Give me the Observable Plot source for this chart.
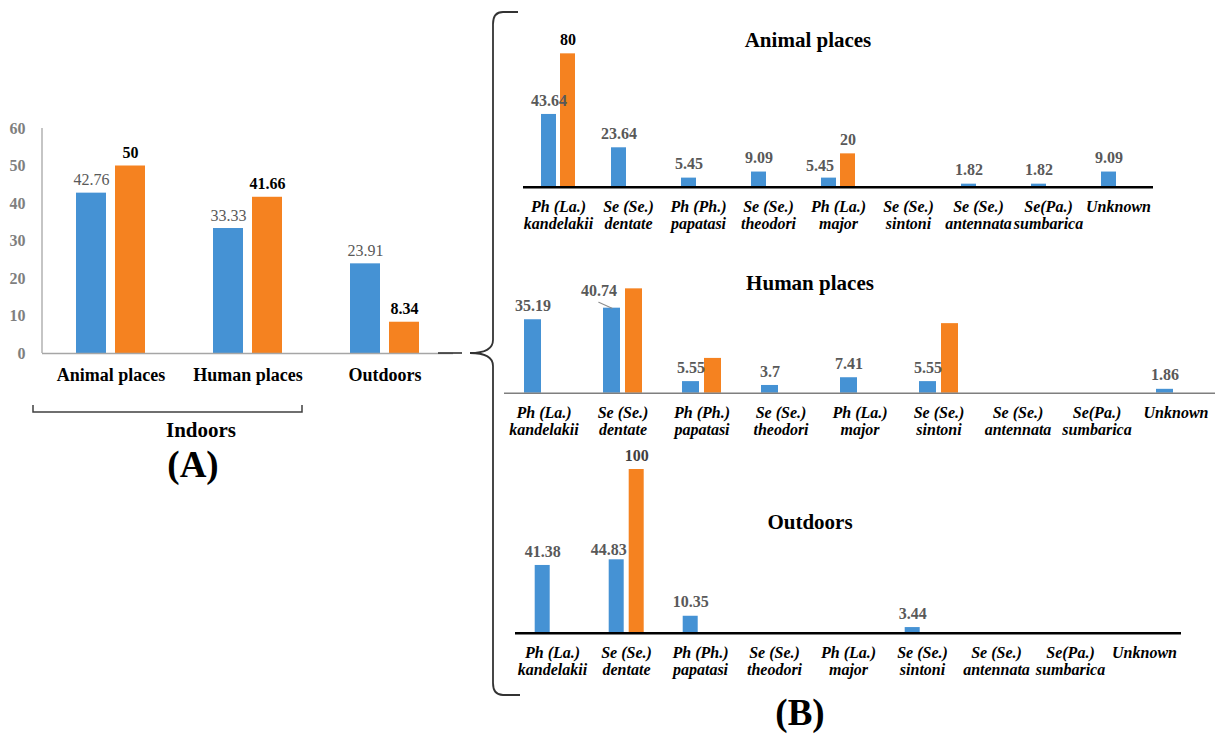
<!DOCTYPE html>
<html>
<head>
<meta charset="utf-8">
<script src="https://cdn.jsdelivr.net/npm/d3@7"></script>
<script src="https://cdn.jsdelivr.net/npm/@observablehq/plot@0.6"></script>
<style>
  html, body { margin: 0; padding: 0; background: #fff; }
  #root { position: relative; width: 1228px; height: 734px; overflow: hidden;
          font-family: "Liberation Serif", "Times New Roman", serif; }
  #root svg, #root svg text, #root svg tspan { font-family: "Liberation Serif", "Times New Roman", serif !important; }
  .abs { position: absolute; }
  .ttl { position: absolute; transform: translate(-50%, -50%); font-weight: bold; color: #000; white-space: nowrap; }
</style>
</head>
<body>
<div id="root"></div>
<script>
// ---------------- data ----------------
const seriesKeys = ["series1", "series2"];
const groupsA = ["Animal places", "Human places", "Outdoors"];
const aSeries1 = [42.76, 33.33, 23.91];
const aSeries2 = [50, 41.66, 8.34];
const aTicks = [0, 10, 20, 30, 40, 50, 60];

const genus = ["Ph (La.)", "Se (Se.)", "Ph (Ph.)", "Se (Se.)", "Ph (La.)", "Se (Se.)", "Se (Se.)", "Se(Pa.)", "Unknown"];
const species = ["kandelakii", "dentate", "papatasi", "theodori", "major", "sintoni", "antennata", "sumbarica", ""];

const animal1 = [43.64, 23.64, 5.45, 9.09, 5.45, 0, 1.82, 1.82, 9.09];
const animal2 = [80, 0, 0, 0, 20, 0, 0, 0, 0];
const human1 = [35.19, 40.74, 5.55, 3.7, 7.41, 5.55, 0, 0, 1.86];
const human2 = [0, 50, 16.67, 0, 0, 33.33, 0, 0, 0];
const outdoor1 = [41.38, 44.83, 10.35, 0, 0, 3.44, 0, 0, 0];
const outdoor2 = [0, 100, 0, 0, 0, 0, 0, 0, 0];

// ---------------- style ----------------
const BLUE = "#4592d4", ORANGE = "#f58220";
const SERIF = "Liberation Serif";
const root = document.getElementById("root");

const categories = genus.map((g, i) => species[i] ? g + "\n" + species[i] : g);

function pairRows(cats, v1, v2) {
  return cats.flatMap((c, i) => [
    {cat: c, series: seriesKeys[0], value: v1[i]},
    {cat: c, series: seriesKeys[1], value: v2[i]}
  ]);
}
function serifize(svg) {
  svg.setAttribute("font-family", SERIF);
  svg.style.fontFamily = SERIF;
  svg.querySelectorAll("g, text, tspan").forEach(el => {
    if (el.hasAttribute("font-family")) el.setAttribute("font-family", SERIF);
    if (el.tagName === "text" || el.tagName === "tspan") el.style.fontFamily = SERIF;
  });
}
function place(node, left, top) {
  serifize(node);
  const d = document.createElement("div");
  d.className = "abs";
  d.style.left = left + "px";
  d.style.top = top + "px";
  d.appendChild(node);
  root.appendChild(d);
  return d;
}
function title(text, cx, cy, size) {
  const d = document.createElement("div");
  d.className = "ttl";
  d.style.left = cx + "px";
  d.style.top = cy + "px";
  d.style.fontSize = size + "px";
  d.textContent = text;
  root.appendChild(d);
}

// ---------------- Panel A ----------------
const rowsA = pairRows(groupsA, aSeries1, aSeries2);
const chartA = Plot.plot({
  width: 470, height: 290,
  marginLeft: 42, marginRight: 17, marginTop: 28, marginBottom: 37,
  style: {fontFamily: SERIF, background: "transparent", overflow: "visible"},
  fx: {domain: groupsA, padding: 0, axis: null},
  x: {domain: seriesKeys, paddingInner: 0.23, paddingOuter: 0.87, axis: null},
  y: {domain: [0, 60], axis: null},
  color: {domain: seriesKeys, range: [BLUE, ORANGE]},
  marks: [
    Plot.barY(rowsA, {fx: "cat", x: "series", y: "value", fill: "series"}),
    Plot.ruleY([0], {stroke: "#a6a6a6", strokeWidth: 1.3}),
    Plot.text(rowsA.filter(d => d.series === seriesKeys[0]), {
      fx: "cat", x: "series", y: "value", text: d => String(d.value),
      lineAnchor: "middle", dy: -13, fill: "#595959", fontSize: 16, fontFamily: SERIF
    }),
    Plot.text(rowsA.filter(d => d.series === seriesKeys[1]), {
      fx: "cat", x: "series", y: "value", text: d => String(d.value),
      lineAnchor: "middle", dy: -13, fill: "#000", fontSize: 16, fontWeight: "bold", fontFamily: SERIF
    }),
    Plot.axisY(aTicks, {tickSize: 0, tickPadding: 17, fontSize: 16, fontWeight: "bold", fill: "#7f7f7f", label: null, fontFamily: SERIF}),
    Plot.axisFx({anchor: "bottom", tickSize: 0, tickPadding: 15, fontSize: 18, fontWeight: "bold", fill: "#000", label: null, fontFamily: SERIF})
  ]
});
{
  const ys = chartA.scale("y"), fxs = chartA.scale("fx");
  d3.select(chartA).append("line")
    .attr("x1", fxs.range[0]).attr("x2", fxs.range[0])
    .attr("y1", ys.range[0]).attr("y2", ys.range[1])
    .attr("stroke", "#a6a6a6").attr("stroke-width", 1.3);
}
place(chartA, 0, 100);

// ---------------- Panel B ----------------
function panelB(cfg) {
  const rows = pairRows(categories, cfg.v1, cfg.v2);
  const tweaks = cfg.tweaks || {};
  const blueRows = rows.filter(d => d.series === seriesKeys[0] && d.value > 0);
  const marks = [
    Plot.barY(rows, {fx: "cat", x: "series", y: "value", fill: "series"}),
    Plot.ruleY([0], {stroke: cfg.baseStroke, strokeWidth: cfg.baseWidth}),
    Plot.text(blueRows.filter(d => !tweaks[d.cat]), {
      fx: "cat", x: "series", y: "value", text: d => String(d.value),
      lineAnchor: "middle", dy: -14, fill: "#595959", fontSize: 16, fontWeight: "bold", fontFamily: SERIF
    })
  ];
  for (const d of blueRows.filter(d => tweaks[d.cat])) {
    const t = tweaks[d.cat];
    marks.push(Plot.text([d], {
      fx: "cat", x: "series", y: "value", text: d => String(d.value),
      lineAnchor: "middle", dx: t.dx, dy: t.dy, fill: "#595959", fontSize: 16, fontWeight: "bold", fontFamily: SERIF
    }));
    if (t.leader) {
      marks.push(Plot.vector([d], {
        fx: "cat", x: "series", y: "value", anchor: "start",
        length: t.leader.length, rotate: t.leader.rotate,
        stroke: "#8c8c8c", strokeWidth: 1,
        shape: {draw(ctx, l) { ctx.moveTo(0, 0); ctx.lineTo(0, -l); }}
      }));
    }
  }
  for (const [cat, fill] of (cfg.orangeLabels || [])) {
    marks.push(Plot.text(rows.filter(d => d.series === seriesKeys[1] && d.cat === cat), {
      fx: "cat", x: "series", y: "value", text: d => String(d.value),
      lineAnchor: "middle", dy: -14, fill, fontSize: 16, fontWeight: "bold", fontFamily: SERIF
    }));
  }
  marks.push(Plot.axisFx({
    anchor: "bottom", tickSize: 0, tickPadding: 13, fontSize: 16, fontWeight: "bold",
    fontStyle: "italic", lineHeight: 1.04, fill: "#000", label: null, fontFamily: SERIF
  }));
  const chart = Plot.plot({
    width: cfg.width, height: cfg.height,
    marginLeft: cfg.mLeft, marginRight: cfg.mRight, marginTop: cfg.mTop, marginBottom: cfg.mBottom,
    style: {fontFamily: SERIF, background: "transparent", overflow: "visible"},
    fx: {domain: categories, padding: 0, axis: null},
    x: {domain: seriesKeys, paddingInner: cfg.pIn, paddingOuter: cfg.pOut, axis: null},
    y: {domain: [0, 100], axis: null},
    color: {domain: seriesKeys, range: [BLUE, ORANGE]},
    marks
  });
  place(chart, cfg.left, cfg.top);
  return chart;
}

panelB({
  v1: animal1, v2: animal2,
  left: 500, top: 0, width: 680, height: 240,
  mTop: 20, mBottom: 53.3, mLeft: 22, mRight: 26,
  pIn: 0.2, pOut: 0.855,
  baseStroke: "#000", baseWidth: 2.6,
  orangeLabels: [[categories[0], "#000"], [categories[4], "#595959"]],
  tweaks: {[categories[4]]: {dx: -9, dy: -12}}
});
panelB({
  v1: human1, v2: human2,
  left: 480, top: 170, width: 745, height: 280,
  mTop: 14, mBottom: 57.3, mLeft: 23, mRight: 9,
  pIn: 0.222, pOut: 0.872,
  baseStroke: "#7f7f7f", baseWidth: 1.5,
  orangeLabels: [],
  tweaks: {[categories[1]]: {dx: -13, dy: -17, leader: {length: 14.5, rotate: -66}}}
});
panelB({
  v1: outdoor1, v2: outdoor2,
  left: 490, top: 440, width: 700, height: 250,
  mTop: 29, mBottom: 57.3, mLeft: 24.3, mRight: 8.9,
  pIn: 0.238, pOut: 0.883,
  baseStroke: "#000", baseWidth: 2.6,
  orangeLabels: [[categories[1], "#404040"]],
  tweaks: {[categories[1]]: {dx: -8, dy: -10}}
});

// ---------------- titles & annotations ----------------
title("Animal places", 808, 40, 21);
title("Human places", 810, 283, 21);
title("Outdoors", 810, 522, 21);
title("Indoors", 201, 430, 21);
title("(A)", 193, 464, 37);
title("(B)", 800, 712, 37);

const ns = "http://www.w3.org/2000/svg";
const deco = document.createElementNS(ns, "svg");
deco.setAttribute("width", 1228); deco.setAttribute("height", 734);
deco.style.position = "absolute"; deco.style.left = "0px"; deco.style.top = "0px";
deco.style.pointerEvents = "none";
const paths = [
  {d: "M33,405 L33,412 L302,412 L302,405", w: 1.5, c: "#404040"},
  {d: "M438,353 L462,353", w: 1.6, c: "#333"},
  {d: "M518,12 L503,12 Q493,12 493,24 L493,340 Q493,353 470,353 Q493,353 493,366 L493,683 Q493,695 503,695 L520,695", w: 1.8, c: "#333"}
];
for (const p of paths) {
  const el = document.createElementNS(ns, "path");
  el.setAttribute("d", p.d); el.setAttribute("fill", "none");
  el.setAttribute("stroke", p.c); el.setAttribute("stroke-width", p.w);
  deco.appendChild(el);
}
root.appendChild(deco);
</script>
</body>
</html>
